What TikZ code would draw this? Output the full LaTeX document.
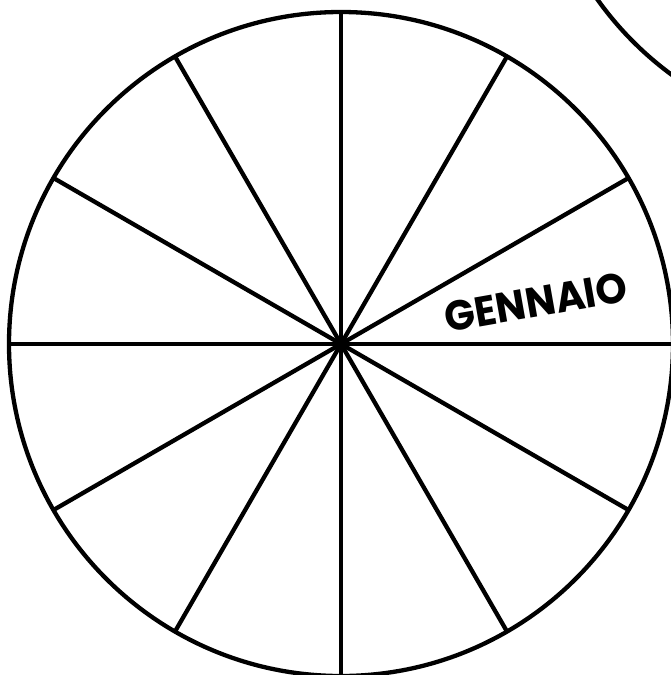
\documentclass[tikz,border=0pt]{standalone}
\usepackage{fontspec}
\usetikzlibrary{calc}
\newfontfamily\labelfont{Poppins}[UprightFont=* Bold]
\begin{document}
\begin{tikzpicture}[x=1pt,y=-1pt,
  wheel/.style={line width=4.3pt, draw=black},
  spoke/.style={line width=4.3pt, draw=black, line cap=butt},
  monthlabel/.style={font=\labelfont\fontsize{42}{42}\selectfont, rotate=10, xscale=0.95, inner sep=0pt}]
\useasboundingbox (0,0) rectangle (670,675);
\coordinate (c) at (341,344);
\coordinate (c2) at (868,-193);
\draw[wheel] (c2) circle (332);
\draw[wheel] (c) circle (332);
\foreach \a in {0,30,...,330} {
  \coordinate (e\a) at ($(c)+(\a:332)$);
  \draw[spoke] (c) -- (e\a);
}
\fill (c) circle (7);
\node[monthlabel] (jan) at (536,302) {GENNAIO};
\end{tikzpicture}
\end{document}
